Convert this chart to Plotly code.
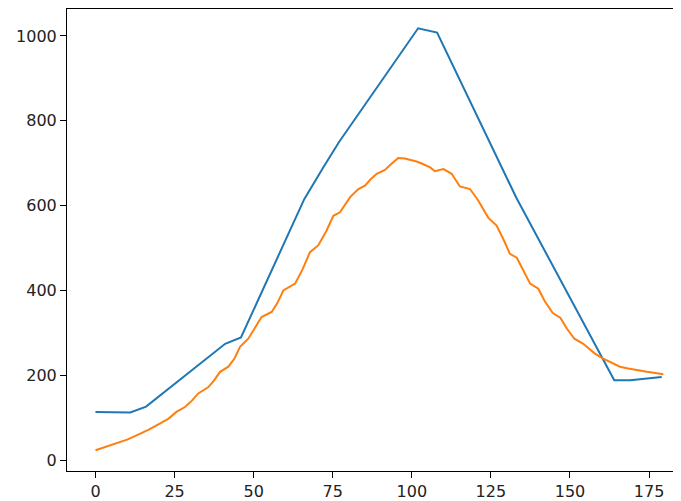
import plotly.graph_objects as go

# blue series (sparse points)
blue_x = [0, 11, 16, 41, 46, 66, 72, 77, 102, 108, 133, 164, 169, 179]
blue_y = [113, 112, 126, 274, 289, 615, 690, 750, 1018, 1008, 619, 188, 188, 196]

# orange series (smoothed)
orange_x = [0, 3, 6.7, 10, 13.5, 17, 20.9, 23, 25.7, 28.3, 30.5, 32.5, 35.7, 37.5,
            39.4, 42, 44, 45.7, 48.3, 49.9, 52.5, 55.7, 57.5, 59.4, 63.1, 65.5, 67.8,
            70.4, 73, 75.2, 77.3, 80.5, 83.1, 85.2, 87, 88.9, 91.5, 93.5, 95.7, 97.8,
            99.5, 101.5, 103.5, 105.8, 107.3, 110, 112.6, 115.2, 118.4, 121, 124.2,
            126.8, 129, 131, 133.2, 135.5, 137.4, 140, 142, 144.5, 147, 149, 151.4,
            154.2, 156, 157.9, 160.5, 163, 165.8, 168.4, 171, 174.3, 177, 179.5]
orange_y = [23, 30, 39, 48, 60, 72, 88, 97, 114, 125, 140, 157, 172, 188,
            208, 220, 240, 267, 286, 306, 337, 349, 370, 400, 416, 450, 490,
            506, 540, 576, 584, 620, 639, 647, 662, 675, 684, 698, 712, 711,
            708, 704, 698, 690, 681, 686, 675, 645, 639, 612, 571,
            553, 520, 486, 477, 445, 416, 404, 375, 347, 335, 310, 286,
            274, 262, 251, 239, 230, 220, 216, 212, 208, 205, 202]

x_ticks = [0, 25, 50, 75, 100, 125, 150, 175]
y_ticks = [0, 200, 400, 600, 800, 1000]

fig = go.Figure()
fig.add_trace(go.Scatter(x=blue_x, y=blue_y, mode='lines',
                         line=dict(color='#1f77b4', width=2)))
fig.add_trace(go.Scatter(x=orange_x, y=orange_y, mode='lines',
                         line=dict(color='#ff7f0e', width=2)))

axis_style = dict(showgrid=False, zeroline=False, showline=True, linecolor='black',
                  linewidth=1, ticks='outside', ticklen=6, tickcolor='black',
                  tickfont=dict(family='DejaVu Sans', size=16, color='#222'))

# page body adds an 8px margin, so the figure is a bit smaller than the window
fig.update_layout(
    width=673, height=493,
    margin=dict(l=59, r=0, t=1, b=30),
    paper_bgcolor='white', plot_bgcolor='white',
    showlegend=False,
    xaxis=dict(range=[-9.0, 185.1], tickvals=x_ticks, mirror=True, **axis_style),
    yaxis=dict(range=[-25.9, 1063.5], tickvals=y_ticks, **axis_style),
)

fig.write_html("out.html")
